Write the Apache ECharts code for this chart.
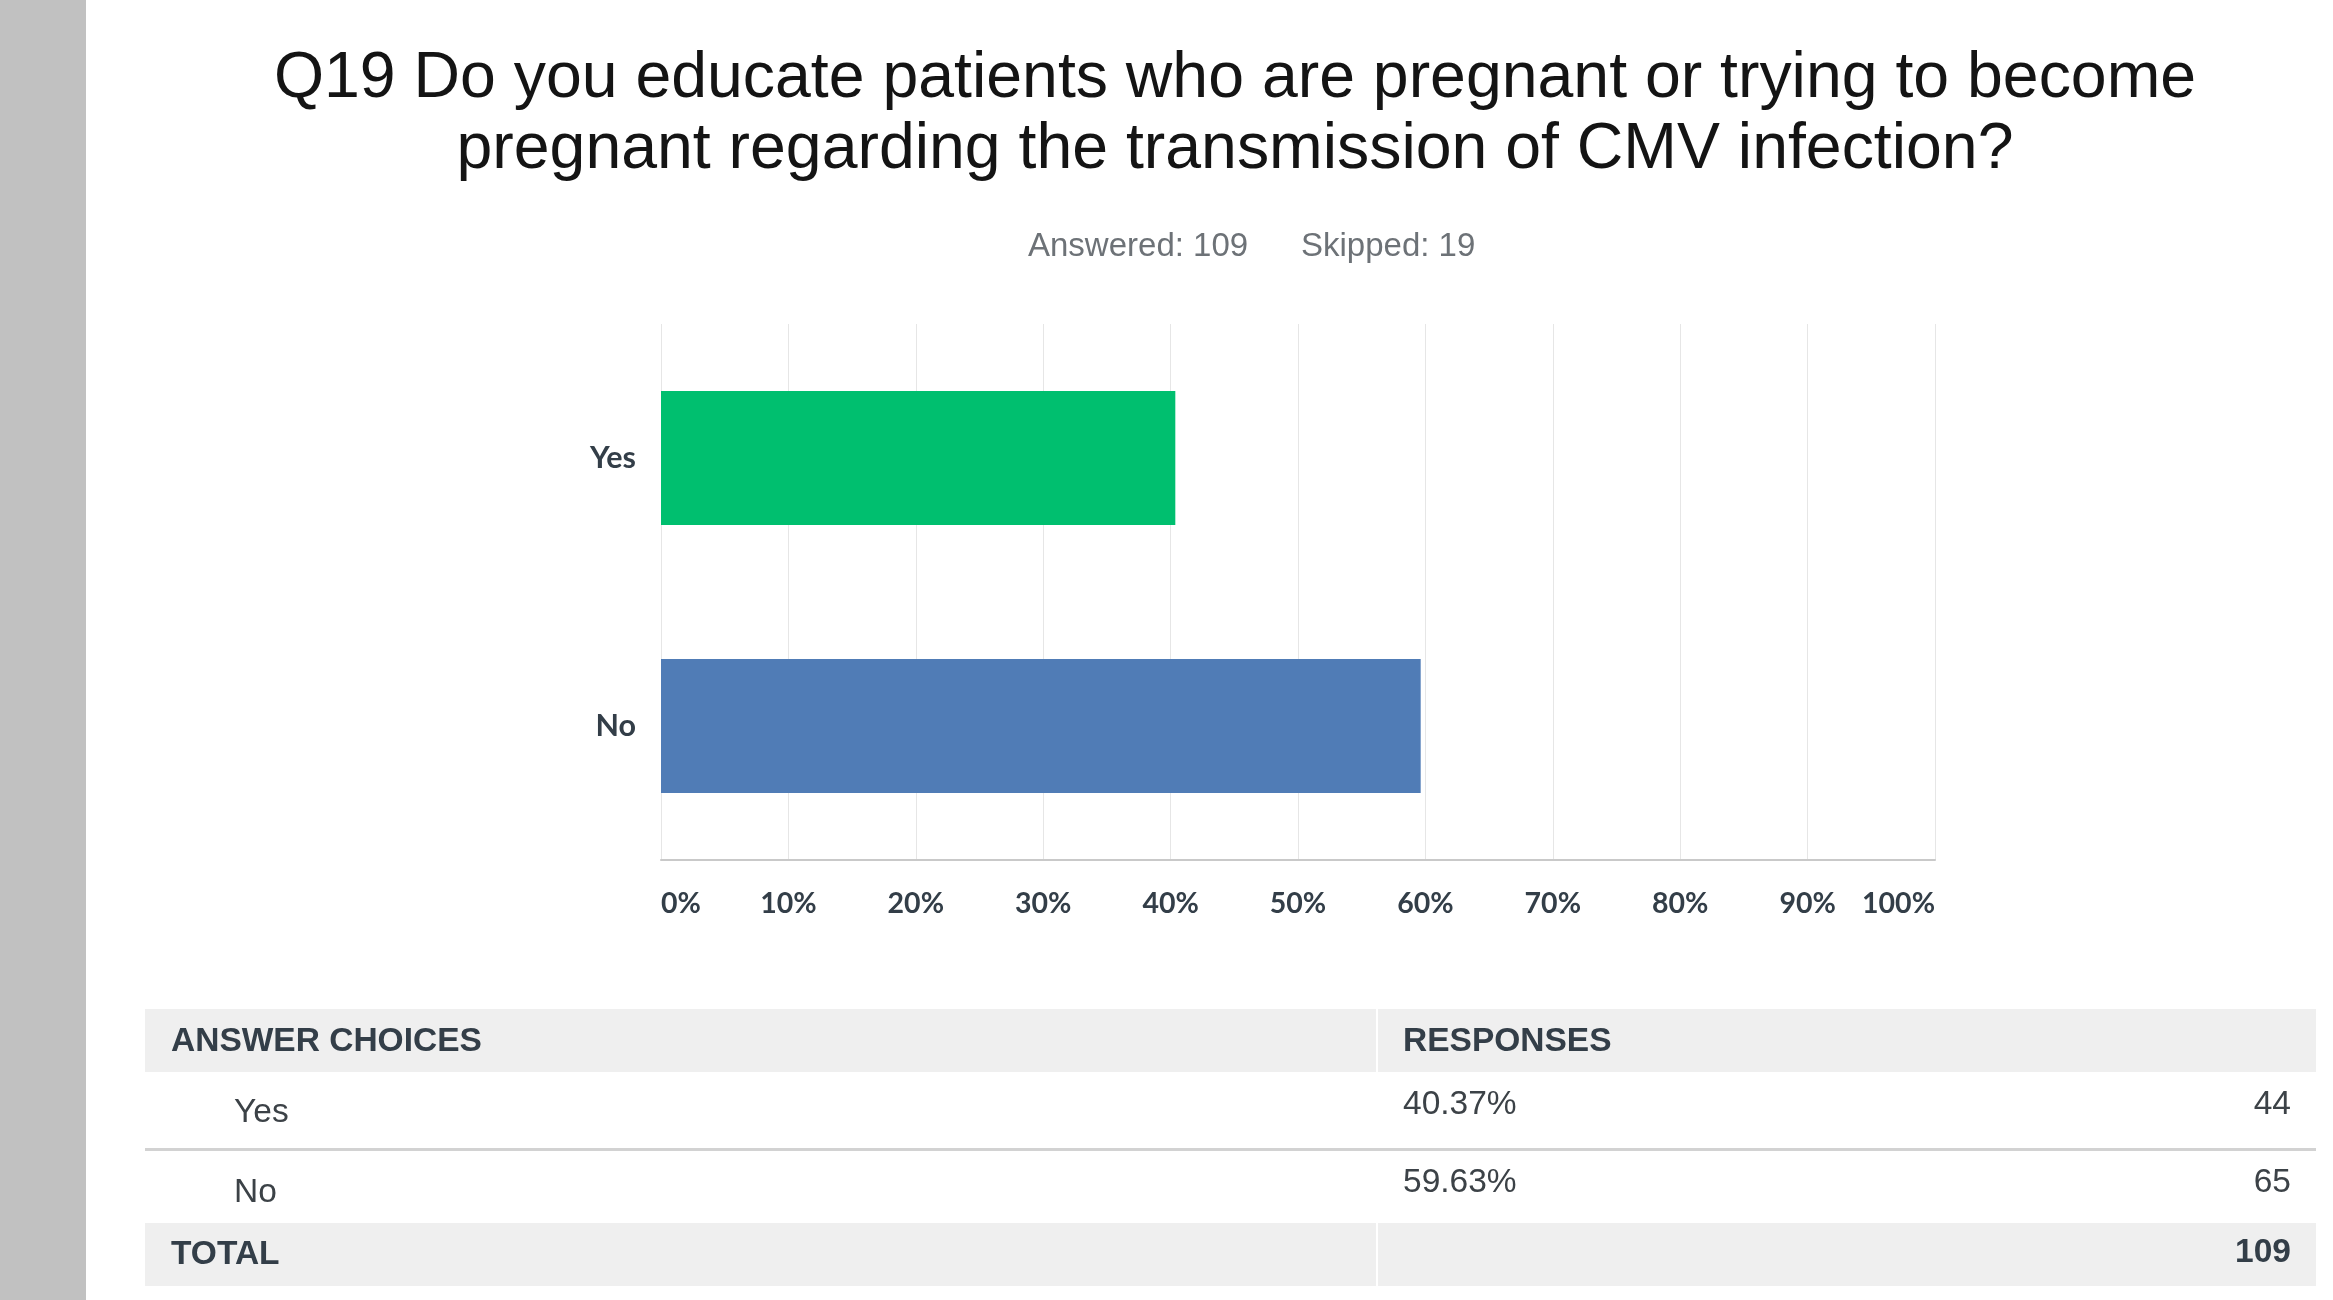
<!DOCTYPE html>
<html>
<head>
<meta charset="utf-8">
<script src="https://cdn.jsdelivr.net/npm/echarts@6/dist/echarts.min.js"></script>
<style>
html,body{margin:0;padding:0;background:#fff;}
#chart{width:2333px;height:1300px;}
</style>
</head>
<body>
<div id="chart"></div>
<script>
// ---- data ----
var titleLines = ['Q19 Do you educate patients who are pregnant or trying to become', 'pregnant regarding the transmission of CMV infection?'];
var answeredCount = 109;
var skippedCount = 19;
var categories = ['Yes', 'No'];
var percentValues = [40.37, 59.63];
var responseCounts = [44, 65];
var totalCount = 109;
var barColors = ['#00bf6f', '#507cb6'];
var xTickValues = [0, 10, 20, 30, 40, 50, 60, 70, 80, 90, 100];

var chart = echarts.init(document.getElementById('chart'));

var dark = '#333e48';
var bodyText = '#3c4247';
var arial = '"Liberation Sans", Arial, sans-serif';

function txt(x, y, text, opts) {
  opts = opts || {};
  return {
    type: 'text', x: x, y: y, silent: true,
    style: {
      text: text,
      fill: opts.fill || bodyText,
      fontSize: opts.fontSize || 33.5,
      fontFamily: opts.fontFamily || arial,
      fontWeight: opts.fontWeight || 'normal',
      align: opts.align || 'left',
      verticalAlign: opts.verticalAlign || 'middle',
      lineHeight: opts.lineHeight
    }
  };
}

var graphics = [
  { type: 'rect', shape: { x: 0, y: 0, width: 86, height: 1300 }, style: { fill: '#c1c1c1' }, silent: true },
  txt(1235, 44, titleLines.join('\n'), { fill: '#141414', fontSize: 64.4, lineHeight: 71, align: 'center', verticalAlign: 'top' }),
  txt(1028, 247, 'Answered: ' + answeredCount, { fill: '#6d7277', fontSize: 33 }),
  txt(1301, 247, 'Skipped: ' + skippedCount, { fill: '#6d7277', fontSize: 33 }),
  // table backgrounds
  { type: 'rect', shape: { x: 145, y: 1009, width: 1231, height: 63 }, style: { fill: '#efefef' }, silent: true },
  { type: 'rect', shape: { x: 1378, y: 1009, width: 938, height: 63 }, style: { fill: '#efefef' }, silent: true },
  { type: 'rect', shape: { x: 145, y: 1148, width: 2171, height: 3 }, style: { fill: '#d2d2d2' }, silent: true },
  { type: 'rect', shape: { x: 145, y: 1223, width: 1231, height: 63 }, style: { fill: '#efefef' }, silent: true },
  { type: 'rect', shape: { x: 1378, y: 1223, width: 938, height: 63 }, style: { fill: '#efefef' }, silent: true },
  txt(171, 1042, 'ANSWER CHOICES', { fill: dark, fontWeight: 'bold' }),
  txt(1403, 1042, 'RESPONSES', { fill: dark, fontWeight: 'bold' }),
  txt(171, 1255, 'TOTAL', { fill: dark, fontWeight: 'bold' }),
  txt(2291, 1253, String(totalCount), { fill: dark, fontWeight: 'bold', align: 'right' })
];

var labelY = [1113, 1193];
var pctY = [1105, 1183];
for (var i = 0; i < categories.length; i++) {
  graphics.push(txt(234, labelY[i], categories[i]));
  graphics.push(txt(1403, pctY[i], percentValues[i].toFixed(2) + '%'));
  graphics.push(txt(2291, pctY[i], String(responseCounts[i]), { align: 'right' }));
}

var option = {
  backgroundColor: '#ffffff',
  animation: false,
  grid: { left: 661, right: 398, top: 324, bottom: 440, containLabel: false },
  xAxis: {
    type: 'value',
    min: xTickValues[0],
    max: xTickValues[xTickValues.length - 1],
    interval: xTickValues[1] - xTickValues[0],
    axisLine: { show: true, lineStyle: { color: '#c9c9c9', width: 2 } },
    axisTick: { show: false },
    splitLine: { show: true, lineStyle: { color: '#e6e6e6', width: 1 } },
    axisLabel: {
      formatter: '{value}%',
      margin: 29,
      color: dark,
      fontSize: 28.5,
      fontFamily: 'Lato, "Open Sans", sans-serif',
      fontWeight: 'bold',
      alignMinLabel: 'left',
      alignMaxLabel: 'right'
    }
  },
  yAxis: {
    type: 'category',
    inverse: true,
    data: categories,
    axisLine: { show: false },
    axisTick: { show: false },
    splitLine: { show: false },
    axisLabel: {
      margin: 25,
      color: dark,
      fontSize: 30.5,
      fontFamily: 'Lato, "Open Sans", sans-serif',
      fontWeight: 'bold',
      padding: [6, 0, 0, 0]
    }
  },
  series: [{
    type: 'bar',
    barWidth: '50%',
    data: percentValues.map(function (v, i) {
      return { value: v, itemStyle: { color: barColors[i] } };
    })
  }],
  graphic: graphics
};

chart.setOption(option);
</script>
</body>
</html>
